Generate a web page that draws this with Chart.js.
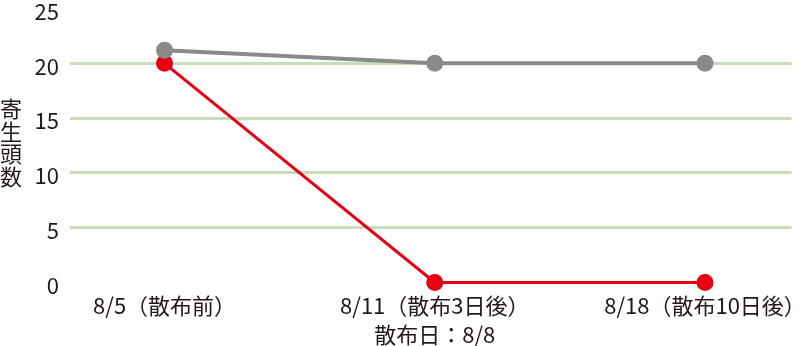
<!DOCTYPE html>
<html>
<head>
<meta charset="utf-8">
<script src="https://cdn.jsdelivr.net/npm/chart.js@4"></script>
<style>
  html, body { margin: 0; padding: 0; background: #fff; }
  #wrap { width: 800px; height: 346px; position: relative; }
</style>
</head>
<body>
<div id="wrap"><canvas id="c"></canvas></div>
<script>
const LABELS = [
  ["8/5（散布前）"],
  ["8/11（散布3日後）", "散布日：8/8"],
  ["8/18（散布10日後）"]
];
const X_POS = [0, 1, 2];
const GRAY_VALUES = [21.2, 20, 20];
const RED_VALUES = [20, 0, 0];
const Y_TICKS = [0, 5, 10, 15, 20, 25];
const Y_TITLE = ["寄", "生", "頭", "数"];

const FONT = '"Noto Sans CJK JP", "Noto Sans", sans-serif';
const TEXT = "#231815";

// stacked vertical axis title
const yTitle = {
  id: "yTitle",
  afterDraw(chart) {
    const ctx = chart.ctx;
    ctx.save();
    ctx.fillStyle = TEXT;
    ctx.font = "22px " + FONT;
    ctx.textAlign = "center";
    ctx.textBaseline = "middle";
    Y_TITLE.forEach((ch, i) => ctx.fillText(ch, 11, 109 + i * 22.5));
    ctx.restore();
  }
};

new Chart(document.getElementById("c"), {
  type: "line",
  data: {
    datasets: [
      {
        label: "gray",
        data: X_POS.map((x, i) => ({ x, y: GRAY_VALUES[i] })),
        borderColor: "#8a8a8a",
        backgroundColor: "#8a8a8a",
        borderWidth: 4,
        pointRadius: 8.5,
        pointHoverRadius: 8.5,
        pointBorderWidth: 0,
        clip: false
      },
      {
        label: "red",
        data: X_POS.map((x, i) => ({ x, y: RED_VALUES[i] })),
        borderColor: "#e60012",
        backgroundColor: "#e60012",
        borderWidth: 3,
        pointRadius: 8.5,
        pointHoverRadius: 8.5,
        pointBorderWidth: 0,
        clip: false
      }
    ]
  },
  options: {
    responsive: true,
    maintainAspectRatio: false,
    animation: false,
    layout: { padding: { top: -2, left: 0, right: 0, bottom: 0 } },
    plugins: { legend: { display: false }, tooltip: { enabled: false } },
    scales: {
      x: {
        type: "linear",
        min: -0.35,
        max: 2.32,
        afterBuildTicks(axis) { axis.ticks = X_POS.map(v => ({ value: v })); },
        afterFit(axis) {
          axis.height = 63.5;
          axis.paddingLeft = 0;
          axis.paddingRight = 0;
        },
        grid: { display: false, drawTicks: false },
        border: { display: false },
        ticks: {
          padding: 9,
          color: TEXT,
          font: { family: FONT, size: 22, lineHeight: 1.3 },
          maxRotation: 0,
          autoSkip: false,
          callback: v => LABELS[v]
        }
      },
      y: {
        min: 0,
        max: 25,
        afterBuildTicks(axis) { axis.ticks = Y_TICKS.map(v => ({ value: v })); },
        afterFit(axis) {
          axis.width = 70;
          axis.paddingTop = 0;
          axis.paddingBottom = 0;
        },
        border: { display: false },
        grid: {
          drawTicks: false,
          lineWidth: 3,
          color: c => (c.tick && c.tick.value > 0 && c.tick.value < 25) ? "#c9dcb9" : "rgba(0,0,0,0)"
        },
        ticks: {
          padding: 11,
          labelOffset: 3,
          color: TEXT,
          font: { family: FONT, size: 22 }
        }
      }
    }
  },
  plugins: [yTitle]
});
</script>
</body>
</html>
